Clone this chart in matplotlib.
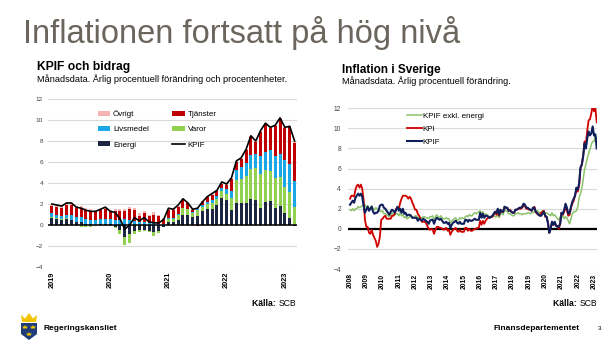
import numpy as np
import pandas as pd
import matplotlib.pyplot as plt
from matplotlib.patches import Polygon

plt.rcParams['font.family'] = ['Liberation Sans', 'DejaVu Sans']

W, H = 616, 346

# KPIF och bidrag, månadsdata jan 2019 - mar 2023 (procent / procentenheter)
kpif_linje = [2.0, 1.9, 1.8, 2.1, 2.1, 1.7, 1.6, 1.4, 1.3, 1.3, 1.5, 1.7,
              1.3, 1.2, 0.6, -0.4, 0.0, 0.7, 0.4, 0.7, 0.3, 0.2, 0.2, 0.5,
              1.6, 1.5, 1.9, 2.5, 2.1, 1.5, 1.6, 2.2, 2.7, 3.0, 3.3, 4.1,
              3.9, 4.5, 6.1, 6.4, 7.2, 8.5, 8.0, 9.0, 9.7, 9.3, 9.5, 10.2,
              9.3, 9.4, 8.0]
energi = [0.65, 0.55, 0.45, 0.55, 0.5, 0.3, 0.25, 0.1, 0.05, 0.0, 0.05, 0.1,
          0.1, -0.2, -0.5, -1.1, -0.9, -0.6, -0.5, -0.5, -0.6, -0.7, -0.6, -0.2,
          0.3, 0.3, 0.5, 1.0, 1.0, 0.8, 0.9, 1.3, 1.5, 1.5, 1.9, 2.6,
          2.4, 1.4, 2.1, 2.1, 2.1, 2.5, 2.4, 1.6, 2.2, 2.3, 1.6, 1.8,
          1.1, 0.7, -0.1]
varor = [0.1, 0.1, 0.1, 0.1, 0.0, -0.1, -0.2, -0.2, -0.2, -0.1, 0.0, 0.0,
         -0.1, -0.1, -0.4, -0.8, -0.8, -0.3, -0.2, -0.1, -0.1, -0.3, -0.2, 0.0,
         0.3, 0.3, 0.5, 0.6, 0.5, 0.3, 0.5, 0.4, 0.5, 0.6, 0.6, 0.6,
         0.6, 1.2, 2.2, 2.3, 2.6, 2.8, 3.0, 3.3, 3.0, 2.8, 2.9, 2.8,
         2.5, 2.4, 1.7]
livsmedel = [0.35, 0.35, 0.3, 0.35, 0.45, 0.5, 0.5, 0.5, 0.45, 0.5, 0.55, 0.45,
             0.5, 0.5, 0.5, 0.6, 0.5, 0.4, 0.3, 0.3, 0.2, 0.15, 0.1, 0.1,
             0.1, 0.1, 0.05, 0.0, 0.05, 0.1, 0.15, 0.2, 0.2, 0.3, 0.3, 0.3,
             0.4, 0.6, 0.9, 1.1, 1.2, 1.4, 1.4, 1.7, 1.8, 2.0, 2.1, 2.2,
             2.6, 2.7, 2.5]
tjanster = [0.75, 0.75, 0.8, 0.9, 0.95, 0.8, 0.8, 0.8, 0.8, 0.75, 0.8, 1.0,
            0.65, 0.8, 0.8, 0.75, 1.0, 1.0, 0.6, 0.8, 0.65, 0.85, 0.8, 0.5,
            0.7, 0.7, 0.7, 0.8, 0.5, 0.2, -0.1, 0.3, 0.5, 0.5, 0.4, 0.4,
            0.4, 1.2, 0.8, 0.8, 1.2, 1.7, 1.1, 2.3, 2.6, 2.1, 2.8, 3.3,
            3.0, 3.5, 3.6]
ovrigt = [0.15, 0.15, 0.15, 0.2, 0.2, 0.2, 0.25, 0.2, 0.2, 0.15, 0.1, 0.15,
          0.15, 0.2, 0.2, 0.15, 0.2, 0.2, 0.2, 0.2, 0.15, 0.2, 0.1, 0.1,
          0.1, 0.1, 0.1, 0.1, 0.1, 0.1, 0.1, 0.1, 0.1, 0.1, 0.1, 0.1,
          0.1, 0.1, 0.1, 0.1, 0.1, 0.1, 0.1, 0.1, 0.1, 0.1, 0.1, 0.1,
          0.1, 0.1, 0.2]

# Inflation i Sverige, månadsdata jan 2008 - mar 2023 (procent)
kpi = [3.0, 3.3, 3.3, 3.2, 3.9, 4.3, 4.4, 4.1, 4.4, 4.0, 2.9, 0.9,
       0.2, 0.2, -0.4, -0.5, -0.1, -0.6, -0.9, -1.2, -1.8, -1.5, -0.8, 0.9,
       1.0, 1.2, 1.3, 1.0, 1.0, 1.0, 1.0, 1.3, 1.3, 1.5, 2.0, 2.1,
       2.0, 2.6, 3.0, 3.3, 3.3, 3.3, 3.2, 3.0, 3.2, 3.0, 2.6, 2.3,
       1.9, 1.9, 1.5, 1.3, 1.0, 0.7, 0.7, 0.7, 0.6, 0.3, 0.0, -0.1,
       0.0, -0.1, -0.5, -0.1, 0.2, 0.2, 0.1, 0.1, 0.0, -0.1, 0.0, 0.1,
       -0.2, -0.1, -0.6, -0.3, -0.1, 0.0, 0.1, -0.2, -0.3, -0.1, -0.3, -0.3,
       -0.3, 0.1, 0.1, -0.2, 0.0, -0.2, -0.2, -0.1, 0.0, 0.0, 0.1, 0.1,
       0.8, 0.4, 0.8, 0.5, 0.8, 1.0, 1.1, 1.1, 1.2, 1.2, 1.4, 1.7,
       1.4, 1.8, 1.3, 1.9, 1.7, 1.7, 2.2, 2.1, 2.1, 1.8, 1.9, 1.7,
       1.6, 1.6, 1.9, 1.9, 2.0, 2.0, 2.0, 2.1, 2.3, 2.3, 2.0, 2.0,
       1.9, 1.9, 1.8, 2.0, 2.2, 1.7, 1.5, 1.4, 1.4, 1.6, 1.7, 1.8,
       1.2, 1.2, 0.6, -0.4, 0.0, 0.7, 0.4, 0.6, 0.3, 0.3, 0.0, 0.5,
       1.6, 1.4, 1.7, 2.2, 1.8, 1.3, 1.4, 2.1, 2.5, 2.8, 3.3, 3.9,
       3.7, 4.3, 6.0, 6.4, 7.3, 8.7, 8.5, 9.8, 10.8, 10.9, 11.5, 12.3,
       11.7, 12.0, 10.6]
kpif = [2.4, 2.6, 2.8, 2.6, 3.1, 3.3, 3.5, 3.3, 3.5, 3.2, 2.3, 1.6,
        1.9, 2.2, 1.8, 2.0, 2.2, 1.7, 1.5, 1.6, 1.6, 1.8, 2.3, 2.4,
        2.4, 2.1, 2.0, 1.8, 1.6, 1.4, 1.7, 1.9, 1.8, 1.6, 1.9, 2.2,
        1.8, 2.0, 1.6, 2.0, 1.5, 1.6, 1.3, 1.4, 1.4, 1.3, 1.1, 1.1,
        1.1, 1.1, 0.8, 1.0, 0.9, 0.8, 1.0, 0.9, 0.8, 0.7, 0.5, 0.8,
        0.9, 0.9, 0.5, 0.9, 1.1, 1.0, 0.9, 1.0, 0.8, 0.6, 0.6, 0.7,
        0.5, 0.6, 0.1, 0.4, 0.6, 0.7, 0.8, 0.6, 0.5, 0.7, 0.5, 0.5,
        0.5, 0.9, 0.9, 0.7, 0.9, 0.8, 0.8, 0.9, 1.0, 0.9, 0.9, 0.9,
        1.6, 1.1, 1.5, 1.1, 1.3, 1.3, 1.2, 1.1, 1.2, 1.3, 1.5, 1.7,
        1.6, 2.0, 1.4, 1.9, 1.7, 1.7, 2.2, 2.1, 2.1, 1.8, 1.8, 1.7,
        1.6, 1.6, 1.9, 1.9, 2.0, 2.1, 2.1, 2.2, 2.5, 2.4, 2.1, 2.1,
        2.0, 1.9, 1.8, 2.1, 2.1, 1.7, 1.6, 1.4, 1.3, 1.3, 1.5, 1.7,
        1.3, 1.2, 0.6, -0.4, 0.0, 0.7, 0.4, 0.7, 0.3, 0.2, 0.2, 0.5,
        1.6, 1.5, 1.9, 2.5, 2.1, 1.5, 1.6, 2.2, 2.7, 3.0, 3.3, 4.1,
        3.9, 4.5, 6.1, 6.4, 7.2, 8.5, 8.0, 9.0, 9.7, 9.3, 9.5, 10.2,
        9.3, 9.4, 8.0]
kpif_exkl_energi = [1.9, 1.8, 2.0, 1.8, 2.0, 2.0, 2.2, 2.1, 2.2, 2.3, 2.4, 2.4,
                    2.1, 2.3, 2.0, 2.1, 2.3, 2.0, 1.9, 2.1, 2.0, 1.8, 1.8, 1.7,
                    1.8, 1.5, 1.5, 1.4, 1.3, 1.2, 1.4, 1.6, 1.4, 1.4, 1.5, 1.5,
                    1.3, 1.6, 1.3, 1.4, 1.1, 1.2, 1.0, 1.1, 1.2, 1.3, 1.1, 1.1,
                    1.3, 1.3, 1.0, 1.2, 1.1, 1.1, 1.2, 1.2, 1.1, 1.1, 1.0, 1.2,
                    1.2, 1.3, 0.8, 1.2, 1.4, 1.2, 1.1, 1.3, 1.1, 1.0, 1.0, 1.1,
                    1.0, 1.0, 0.6, 0.8, 0.9, 1.0, 1.1, 0.8, 0.9, 1.1, 1.0, 1.1,
                    1.0, 1.2, 1.3, 1.2, 1.4, 1.3, 1.3, 1.5, 1.6, 1.5, 1.6, 1.7,
                    1.8, 1.5, 1.7, 1.3, 1.5, 1.4, 1.3, 1.1, 1.2, 1.2, 1.3, 1.2,
                    1.2, 1.5, 1.1, 1.6, 1.5, 1.4, 2.0, 1.8, 1.7, 1.5, 1.5, 1.4,
                    1.3, 1.3, 1.5, 1.5, 1.6, 1.5, 1.5, 1.4, 1.5, 1.5, 1.5, 1.6,
                    1.6, 1.5, 1.6, 1.6, 1.7, 1.6, 1.8, 1.7, 1.6, 1.6, 1.8, 1.7,
                    1.5, 1.6, 1.5, 1.4, 1.3, 1.6, 1.3, 1.4, 1.2, 1.0, 0.9, 1.2,
                    1.1, 1.3, 1.0, 1.2, 1.1, 0.8, 0.5, 1.0, 1.5, 1.7, 1.7, 1.8,
                    2.2, 3.1, 3.5, 4.0, 4.9, 5.9, 6.4, 7.0, 7.5, 7.9, 8.4, 8.7,
                    8.7, 9.3, 8.9]

c_energi = '#1c2541'
c_varor = '#92d050'
c_livsmedel = '#1aa7e6'
c_tjanster = '#c00000'
c_ovrigt = '#f6b3b3'
c_kpif = '#0f1f5c'
c_kpi = '#d00000'
c_xe = '#8cc36a'
grid_c = '#d9d9d9'


def fx(x):
    return x / W


def fy(y):
    return 1 - y / H


fig = plt.figure(figsize=(W / 100, H / 100), dpi=100)
fig.patch.set_facecolor('white')

fig.text(fx(23), fy(43), 'Inflationen fortsatt på hög nivå', fontsize=23.5,
         color='#6b665d', va='baseline')

# ---------- vänster diagram ----------
fig.text(fx(37), fy(70), 'KPIF och bidrag', fontsize=8.7, fontweight='bold', va='baseline')
fig.text(fx(37), fy(81.5), 'Månadsdata. Årlig procentuell förändring och procentenheter.',
         fontsize=6.6, va='baseline')

ax1 = fig.add_axes([fx(48), fy(267), 249 / W, 168 / H])
months1 = pd.date_range('2019-01-01', periods=len(kpif_linje), freq='MS')
x1 = np.arange(len(months1))

pos_base = np.zeros(len(x1))
neg_base = np.zeros(len(x1))
bar_handles = {}
for name, vals, col in [('Energi', energi, c_energi), ('Varor', varor, c_varor),
                        ('Livsmedel', livsmedel, c_livsmedel), ('Tjänster', tjanster, c_tjanster),
                        ('Övrigt', ovrigt, c_ovrigt)]:
    v = np.array(vals)
    base = np.where(v >= 0, pos_base, neg_base)
    bar_handles[name] = ax1.bar(x1, v, bottom=base, width=0.62, color=col, label=name, zorder=2)
    pos_base += np.clip(v, 0, None)
    neg_base += np.clip(v, None, 0)

line_kpif, = ax1.plot(x1, kpif_linje, color='black', lw=1.2, label='KPIF', zorder=4)
ax1.axhline(0, color='black', lw=1.1, zorder=3)

ax1.set_xlim(-0.82, 50.5)
ax1.set_ylim(-4, 12)
ax1.set_yticks(np.arange(-4, 13, 2))
ax1.grid(axis='y', color=grid_c, lw=0.8, zorder=0)
tick1 = np.where(months1.month == 1)[0]
ax1.set_xticks(tick1)
ax1.set_xticklabels([str(d.year) for d in months1[tick1]], rotation=90,
                    fontsize=5.3, fontweight='bold')
for s in ax1.spines.values():
    s.set_visible(False)
ax1.tick_params(axis='both', length=0)
ax1.tick_params(axis='y', labelsize=4.6, labelcolor='#404040', pad=3.6)
ax1.tick_params(axis='x', pad=3.6)

ax1.legend([bar_handles['Övrigt'], bar_handles['Livsmedel'], bar_handles['Energi'],
            bar_handles['Tjänster'], bar_handles['Varor'], line_kpif],
           ['Övrigt', 'Livsmedel', 'Energi', 'Tjänster', 'Varor', 'KPIF'],
           ncol=2, frameon=False, fontsize=5.8, loc='upper left',
           bbox_to_anchor=(fx(97.7), fy(110.3)), bbox_transform=fig.transFigure,
           borderpad=0, borderaxespad=0, handlelength=1.55, handleheight=0.5,
           handletextpad=0.35, labelspacing=1.0, columnspacing=2.9)

scb1 = fig.text(fx(296), fy(303.5), 'SCB', fontsize=6.2, ha='right', va='center')
ax1.annotate('Källa: ', xy=(0, 0.5), xycoords=scb1, fontsize=6.2, fontweight='bold',
             ha='right', va='center', annotation_clip=False)

# ---------- höger diagram ----------
fig.text(fx(342), fy(72.5), 'Inflation i Sverige', fontsize=8.5, fontweight='bold', va='baseline')
fig.text(fx(342), fy(84.5), 'Månadsdata. Årlig procentuell förändring.', fontsize=6.6, va='baseline')

ax2 = fig.add_axes([fx(348), fy(269), 249 / W, 160.7 / H])
months2 = pd.date_range('2008-01-01', periods=len(kpi), freq='MS')
x2 = np.arange(len(months2))

ax2.plot(x2, kpif_exkl_energi, color=c_xe, lw=1.1, label='KPIF exkl. energi', zorder=3)
ax2.plot(x2, kpi, color=c_kpi, lw=1.3, label='KPI', zorder=4)
ax2.plot(x2, kpif, color=c_kpif, lw=1.5, label='KPIF', zorder=5)
ax2.axhline(0, color='black', lw=1.6, zorder=2)

ax2.set_xlim(-1.5, 182.2)
ax2.set_ylim(-4, 12)
ax2.set_yticks(np.arange(-4, 13, 2))
ax2.grid(axis='y', color=grid_c, lw=0.8, zorder=0)
tick2 = np.where(months2.month == 1)[0]
ax2.set_xticks(tick2)
ax2.set_xticklabels([str(d.year) for d in months2[tick2]], rotation=90,
                    fontsize=4.9, fontweight='bold')
for s in ax2.spines.values():
    s.set_visible(False)
ax2.tick_params(axis='both', length=0)
ax2.tick_params(axis='y', labelsize=4.8, labelcolor='#404040', pad=5)
ax2.tick_params(axis='x', pad=3.2)

ax2.legend(frameon=False, fontsize=5.8, loc='upper left',
           bbox_to_anchor=(fx(407), fy(112)), bbox_transform=fig.transFigure,
           borderpad=0, borderaxespad=0, handlelength=1.8, handletextpad=0.15,
           labelspacing=0.7)

scb2 = fig.text(fx(597), fy(303), 'SCB', fontsize=6.2, ha='right', va='center')
ax2.annotate('Källa: ', xy=(0, 0.5), xycoords=scb2, fontsize=6.2, fontweight='bold',
             ha='right', va='center', annotation_clip=False)


# ---------- sidfot ----------
def px_poly(pts, **kw):
    fig.add_artist(Polygon([(fx(a), fy(b)) for a, b in pts], closed=True,
                           transform=fig.transFigure, **kw))


px_poly([(21, 315), (25, 318.5), (29, 313), (33, 318.5), (37, 315), (36, 322), (22, 322)],
        color='#f2c300', lw=0)
px_poly([(21, 323), (37, 323), (37, 334), (29, 340), (21, 334)], color='#1d3c78', lw=0)
for cx, cy in [(25, 327), (33, 327), (29, 334)]:
    px_poly([(cx - 2.5, cy - 1.5), (cx - 1.2, cy), (cx, cy - 2), (cx + 1.2, cy), (cx + 2.5, cy - 1.5),
             (cx + 2, cy + 1.5), (cx - 2, cy + 1.5)], color='#f2c300', lw=0)

fig.text(fx(43), fy(328), 'Regeringskansliet', fontsize=6, fontweight='bold', va='center')
fig.text(fx(494), fy(328), 'Finansdepartementet', fontsize=6, fontweight='bold', va='center')
fig.text(fx(598), fy(328), '3', fontsize=4.5, va='center')

fig.savefig('out.png', dpi=100)
